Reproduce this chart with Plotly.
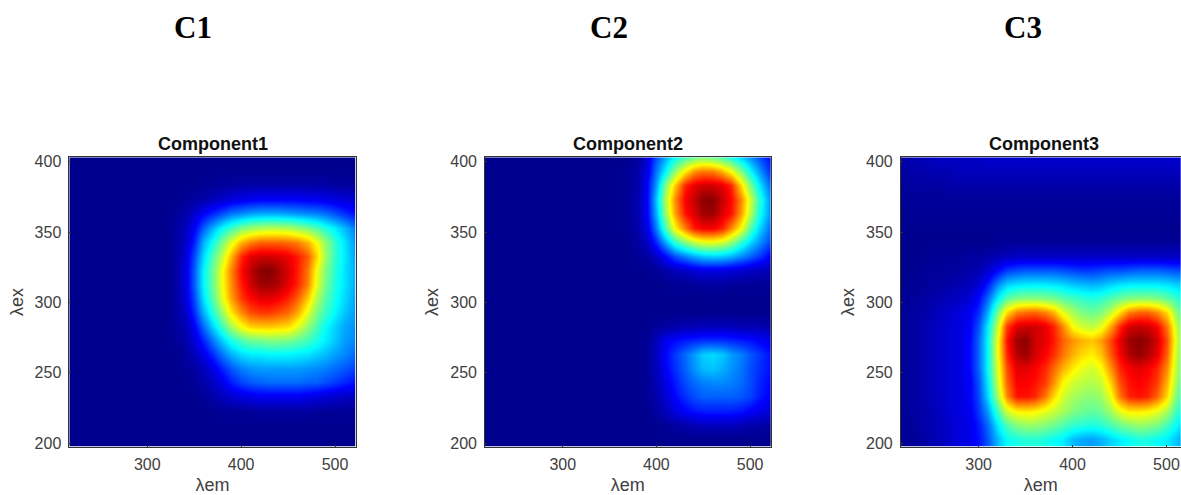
import plotly.graph_objects as go

em = [220, 230, 240, 250, 260, 270, 280, 290, 300, 310, 320, 330, 340, 350, 360, 370,
      380, 390, 400, 410, 420, 430, 440, 450, 460, 470, 480, 490, 500, 510, 520]
ex = [403, 393, 383, 373, 363, 353, 343, 333, 323, 313, 303, 293, 283, 273, 263, 253,
      243, 233, 223, 213, 203]
Z0 = [0] * 11
Y0 = [0] * 15

component1 = [
    Z0 + [0]*20,
    Z0 + [0]*20,
    Z0 + [0,0,0,1,1,2,2,3,3,3,3,3,3,3,3,3,3,2,2,2],
    Z0 + [0,1,2,3,5,7,9,10,11,12,12,12,12,12,11,11,10,9,8,7],
    Z0 + [1,3,7,12,16,20,24,26,28,29,29,29,28,27,26,25,23,20,17,14],
    Z0 + [2,5,12,22,31,38,44,50,53,55,56,56,55,53,50,46,41,36,31,25],
    Z0 + [2,6,16,30,40,50,60,70,75,78,78,78,77,75,70,62,52,42,35,28],
    Z0 + [2,8,20,34,46,57,70,84,90,92,92,91,89,85,79,67,53,42,36,29],
    Z0 + [2,9,22,37,49,62,75,87,94,99,100,96,91,85,76,62,50,41,35,30],
    Z0 + [2,9,22,37,49,62,74,85,92,97,97,95,90,84,75,60,49,40,35,30],
    Z0 + [2,8,20,35,47,60,72,82,87,90,90,88,84,78,68,55,46,39,34,29],
    Z0 + [2,6,17,30,42,53,65,74,80,82,82,80,77,71,60,50,43,37,32,28],
    Z0 + [2,4,12,23,34,44,54,62,67,68,68,67,66,60,52,45,38,33,29,27],
    Z0 + [1,3,8,16,25,33,40,45,48,49,50,50,49,47,44,40,36,32,28,26],
    Z0 + [0,2,5,10,17,24,30,34,36,36,37,37,37,36,35,33,31,28,26,23],
    Z0 + [0,1,2,5,10,16,21,25,27,28,28,28,28,28,27,26,25,23,21,19],
    Z0 + [0,0,1,3,6,10,15,19,21,22,23,23,23,23,22,22,20,18,16,14],
    Z0 + [0,0,0,1,3,5,7,9,10,11,11,11,11,11,10,9,8,7,6,5],
    Z0 + [0,0,0,0,0,1,1,1,1,2,2,2,2,2,2,1,1,1,1,1],
    Z0 + [0]*20,
    Z0 + [0]*20,
]

component2 = [
    Y0 + [0,2,8,20,30,38,44,48,50,48,45,40,33,27,20,14],
    Y0 + [1,3,10,24,38,52,64,73,76,75,70,62,50,38,28,18],
    Y0 + [1,3,12,28,52,68,84,90,92,92,90,84,66,50,36,24],
    Y0 + [1,4,12,32,56,74,88,93,99,99,93,87,74,58,42,28],
    Y0 + [1,4,12,30,54,72,86,91,97,97,91,86,72,56,40,28],
    Y0 + [1,3,10,25,46,63,75,85,88,88,84,74,62,46,34,24],
    Y0 + [0,2,6,16,30,42,50,56,60,60,58,52,42,34,27,20],
    Y0 + [0,1,2,6,13,20,25,29,32,33,32,30,26,22,18,12],
    Y0 + [0,0,0,1,3,5,6,8,9,9,9,8,7,6,5,4],
    Y0 + [0,0,0,0,0,1,1,1,2,2,2,1,1,1,1,1],
    Y0 + [0]*16,
    Y0 + [0]*16,
    Y0 + [0,0,0,1,2,3,4,4,5,5,5,5,4,4,4,3],
    Y0 + [0,0,1,5,11,13,15,16,17,17,17,16,15,14,12,10],
    Y0 + [0,0,1,6,13,18,23,28,33,34,32,28,25,21,18,14],
    Y0 + [0,0,1,5,12,17,22,27,31,32,30,27,24,20,17,14],
    Y0 + [0,0,1,4,10,15,20,23,25,26,26,25,23,20,16,13],
    Y0 + [0,0,1,3,8,13,17,20,22,22,22,22,21,19,15,12],
    Y0 + [0,0,0,2,5,9,12,14,15,15,15,15,14,12,10,8],
    Y0 + [0,0,0,0,1,2,3,4,5,5,5,5,4,3,3,2],
    Y0 + [0]*16,
]

component3 = [
    [3,4,5,5,6,6,6,6,6,7,7,7,7,7,7,7,7,7,7,7,7,7,7,7,7,7,7,7,7,7,7],
    [2,3,3,4,4,4,5,5,5,5,5,5,5,5,5,5,5,5,5,5,5,5,5,5,5,5,5,5,5,5,5],
    [1,2,2,2,2,3,3,3,3,3,3,3,3,3,3,3,3,3,3,3,3,3,3,3,3,3,3,3,3,3,3],
    [1,1,1,1,1,1,1,1,1,1,1,1,1,1,1,1,1,1,1,1,1,1,1,1,1,1,1,1,1,1,1],
    [0,1,1,1,1,1,1,1,1,1,1,1,1,1,1,1,1,1,1,1,1,1,1,1,1,1,1,1,1,1,1],
    [0,0,0,0,0,0,0,0,0,0,0,0,0,0,0,0,0,0,0,0,0,0,0,0,0,0,0,0,0,0,0],
    [0,0,0,0,0,0,0,0,0,0,1,1,1,1,1,1,1,1,1,1,1,1,1,1,1,1,1,1,1,1,1],
    [0,0,0,1,1,1,1,2,2,3,4,5,6,6,6,6,6,6,6,6,6,6,6,6,6,6,6,6,6,6,6],
    [0,0,1,1,1,2,2,3,4,7,13,18,20,21,21,21,21,20,19,18,18,19,20,20,21,22,22,22,21,20,20],
    [0,1,1,2,2,3,4,5,8,15,26,33,35,36,36,36,35,34,32,31,30,31,33,35,36,36,36,36,35,33,32],
    [1,1,2,3,4,5,6,8,13,23,37,46,50,51,51,50,49,46,44,42,41,42,45,48,50,51,51,50,47,43,38],
    [1,2,3,4,6,7,9,11,17,30,50,66,75,77,78,75,70,60,54,50,48,50,56,66,75,78,78,74,66,52,40],
    [1,2,3,5,6,8,9,12,21,36,58,82,91,92,92,90,84,74,62,58,56,60,70,84,92,93,92,88,76,58,42],
    [1,2,3,5,6,8,9,13,23,38,62,86,97,99,92,90,85,78,73,70,68,72,80,90,97,99,97,92,80,60,42],
    [1,2,3,5,6,8,9,13,23,38,62,84,95,97,92,88,83,76,70,66,64,68,78,88,95,98,95,90,78,58,42],
    [1,2,3,5,6,8,9,13,23,38,60,80,90,90,88,84,77,70,64,60,58,62,72,84,88,90,88,84,74,56,42],
    [1,2,3,5,6,8,9,12,21,36,58,78,88,88,86,82,73,63,58,56,55,57,66,80,86,88,86,82,70,54,40],
    [1,2,3,5,6,8,9,12,20,34,54,74,86,86,84,76,66,58,54,52,51,53,60,76,84,86,84,78,66,50,38],
    [1,2,3,4,6,8,9,11,18,28,44,58,63,64,63,60,57,54,50,48,47,48,53,60,64,64,63,60,54,44,36],
    [1,1,3,4,5,7,9,10,15,23,36,45,50,52,52,50,48,45,42,41,40,41,44,48,50,52,51,49,44,38,30],
    [1,1,2,4,5,7,9,10,14,21,31,38,40,41,41,40,38,36,31,29,28,30,33,36,38,40,40,38,36,32,27],
]

panel_titles = ["Component1", "Component2", "Component3"]
headers = ["C1", "C2", "C3"]
x_ticks = [300, 400, 500]
y_ticks = [200, 250, 300, 350, 400]
x_label = "λem"
y_label = "λex"

jet = [[0, "rgb(0,0,143)"], [0.125, "rgb(0,0,255)"], [0.375, "rgb(0,255,255)"],
       [0.625, "rgb(255,255,0)"], [0.875, "rgb(255,0,0)"], [1, "rgb(128,0,0)"]]

W, H = 1181, 495
lefts = [69.3, 485.0, 900.7]
rights = [355.7, 770.7, 1181.0]
x_ends = [522, 522, 515.5]
top, bottom = 157.3, 446.7
header_x = [193, 609, 1023]
GRAY = "#404040"
SANS = "Liberation Sans, Arial, sans-serif"

fig = go.Figure()
ann = []
for i, z in enumerate([component1, component2, component3]):
    s = "" if i == 0 else str(i + 1)
    fig.add_trace(go.Heatmap(x=em, y=ex, z=z, zmin=0, zmax=100, colorscale=jet,
                             showscale=False, zsmooth="best", xaxis="x" + s, yaxis="y" + s))
    axis = dict(ticks="inside", ticklen=2, tickcolor="#333333", showline=True, linecolor="#333333",
                linewidth=0.6, mirror=True, showgrid=False, zeroline=False, automargin=False,
                tickfont=dict(family=SANS, size=16, color=GRAY))
    fig.layout["xaxis" + s] = go.layout.XAxis(
        domain=[lefts[i] / W, rights[i] / W], range=[217, x_ends[i]], tickvals=x_ticks,
        anchor="y" + s, ticklabelstandoff=3,
        title=dict(text=x_label, standoff=9, font=dict(family=SANS, size=18, color=GRAY)), **axis)
    fig.layout["yaxis" + s] = go.layout.YAxis(
        domain=[1 - bottom / H, 1 - top / H], range=[197.5, 403.1], tickvals=y_ticks,
        anchor="x" + s, ticklabelstandoff=4,
        title=dict(text=y_label, standoff=6, font=dict(family=SANS, size=18, color=GRAY)), **axis)
    ann.append(dict(text="<b>%s</b>" % panel_titles[i], x=(lefts[i] + lefts[i] + 286.4) / 2 / W, y=1 - 144 / H,
                    xref="paper", yref="paper", showarrow=False, xanchor="center", yanchor="middle",
                    font=dict(family=SANS, size=18, color="#111111")))
    ann.append(dict(text="<b>%s</b>" % headers[i], x=header_x[i] / W, y=1 - 27.5 / H,
                    xref="paper", yref="paper", showarrow=False, xanchor="center", yanchor="middle",
                    font=dict(family="Liberation Serif, Times New Roman, serif", size=31, color="black")))

fig.update_layout(width=W, height=H, autosize=False, margin=dict(l=0, r=0, t=0, b=0),
                  paper_bgcolor="white", plot_bgcolor="white", annotations=ann, showlegend=False)
fig.write_html("out.html", config=dict(displayModeBar=False),
               post_script="document.body.style.margin='0';document.body.style.overflow='hidden';")
